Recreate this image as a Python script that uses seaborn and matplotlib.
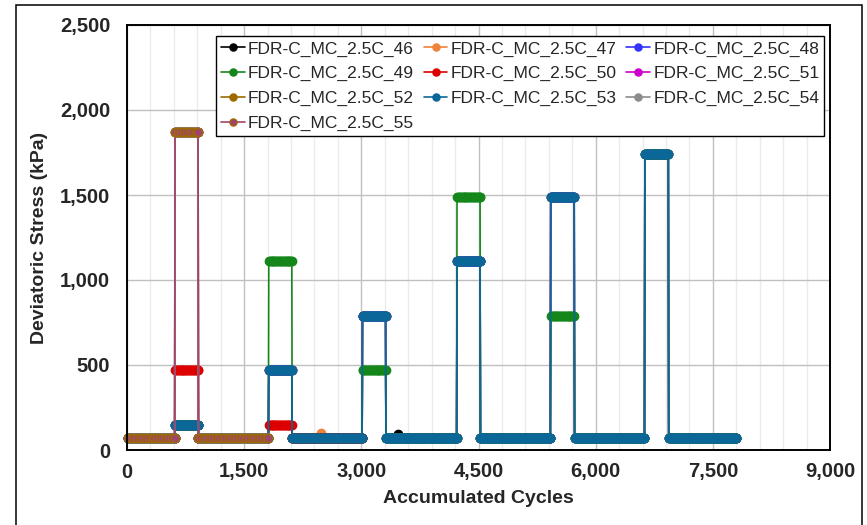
import numpy as np
import pandas as pd
import matplotlib
matplotlib.use("Agg")
import matplotlib.pyplot as plt
from matplotlib.patches import Rectangle
from matplotlib.ticker import MultipleLocator, FuncFormatter
import seaborn as sns

# ---------------- data ----------------
# loading segments in accumulated cycles: low / high stress blocks
seg_start = [10, 615, 915, 1815, 2115, 3015, 3315, 4225, 4525, 5425, 5730, 6630, 6935]
seg_end = [610, 910, 1810, 2110, 3010, 3310, 4220, 4520, 5420, 5725, 6625, 6930, 7800]

series_names = [
    "FDR-C_MC_2.5C_46", "FDR-C_MC_2.5C_47", "FDR-C_MC_2.5C_48",
    "FDR-C_MC_2.5C_49", "FDR-C_MC_2.5C_50", "FDR-C_MC_2.5C_51",
    "FDR-C_MC_2.5C_52", "FDR-C_MC_2.5C_53", "FDR-C_MC_2.5C_54",
    "FDR-C_MC_2.5C_55",
]
# cycles between recorded points, per test
record_every = [12, 12, 12, 12, 12, 12, 12, 12, 12, 38]

# deviatoric stress level (kPa) in each segment, per test
levels_46 = [70, 150, 70, 470, 70, 790, 70, 1110, 70, 1490, 70, 1740, 70]
levels_47 = [70, 150, 70, 470, 70, 790, 70, 1110, 70, 1490, 70, 1740, 70]
levels_48 = [70, 150, 70, 470, 70, 790, 70, 1110, 70, 1490, 70, 1740, 70]
levels_49 = [70, 150, 70, 1110, 70, 470, 70, 1490, 70, 790, 70, 1740, 70]
levels_50 = [70, 470, 70, 150, 70]
levels_51 = [70, 1870, 70]
levels_52 = [70, 1870, 70]
levels_53 = [70, 150, 70, 470, 70, 790, 70, 1110, 70, 1490, 70, 1740, 70]
levels_54 = [70, 1870, 70]
levels_55 = [70, 1870, 70]

# isolated readings that stand out of the low-stress bands (cycles, kPa)
odd_46 = [(3470, 95)]
odd_47 = [(2490, 100)]

all_levels = [levels_46, levels_47, levels_48, levels_49, levels_50,
              levels_51, levels_52, levels_53, levels_54, levels_55]
all_odd = [odd_46, odd_47, [], [], [], [], [], [], [], []]

line_colors = ["#000000", "#f0833a", "#3333ff", "#15871a", "#dd0000",
               "#cc00cc", "#9c6a00", "#0b6797", "#8c8c8c", "#a2436f"]
edge_colors = ["#000000", "#f0833a", "#3333ff", "#15871a", "#dd0000",
               "#cc00cc", "#9c6a00", "#0b6797", "#8c8c8c", "#9c6a00"]


def build_series(levels, odd, step):
    xs, ys = [], []
    for s, e, lv in zip(seg_start, seg_end, levels):
        x = np.arange(s, e + 1, step)
        if x[-1] != e:
            x = np.append(x, e)
        xs.append(x)
        ys.append(np.full(len(x), lv, dtype=float))
    x = np.concatenate(xs).astype(float)
    y = np.concatenate(ys)
    for ox, oy in odd:
        i = int(np.argmin(np.abs(x - ox)))
        y[i] = oy
    return pd.DataFrame({"cycles": x, "stress": y})


# ---------------- figure ----------------
sns.set_style("white")
plt.rcParams["font.family"] = ["Liberation Sans", "DejaVu Sans"]

W, H = 867, 525
fig = plt.figure(figsize=(W / 100, H / 100), dpi=100)
ax = fig.add_axes([127 / W, (H - 450) / H, 703 / W, 425 / H])

for name, lv, od, st, lc, ec in zip(series_names, all_levels, all_odd,
                                    record_every, line_colors, edge_colors):
    df = build_series(lv, od, st)
    sns.lineplot(data=df, x="cycles", y="stress", ax=ax, color=lc,
                 marker="o", markersize=6, markeredgecolor=ec,
                 markeredgewidth=1.0, linewidth=1.2, label=name,
                 estimator=None, sort=False, clip_on=False)

ax.set_xlim(0, 9000)
ax.set_ylim(0, 2500)
ax.xaxis.set_major_locator(MultipleLocator(1500))
ax.xaxis.set_minor_locator(MultipleLocator(300))
ax.yaxis.set_major_locator(MultipleLocator(500))
fmt = FuncFormatter(lambda v, p: f"{int(round(v)):,}")
ax.xaxis.set_major_formatter(fmt)
ax.yaxis.set_major_formatter(fmt)

ax.grid(which="major", color="#c0c0c0", linewidth=1.0)
ax.grid(which="minor", axis="x", color="#ebebeb", linewidth=1.0)
ax.set_axisbelow(True)

ax.tick_params(which="both", length=0)
ax.tick_params(axis="x", pad=9, labelsize=14.5)
ax.tick_params(axis="y", pad=12, labelsize=14.5)
for lab in ax.get_xticklabels() + ax.get_yticklabels():
    lab.set_fontweight("bold")

for sp in ax.spines.values():
    sp.set_visible(True)
    sp.set_color("#000000")
    sp.set_linewidth(1.4)

ax.set_xlabel("Accumulated Cycles", fontsize=14, fontweight="bold")
ax.set_ylabel("Deviatoric Stress (kPa)", fontsize=14, fontweight="bold")
ax.xaxis.set_label_coords(0.5, (450 - 490) / 425)
ax.yaxis.set_label_coords((48 - 127) / 703, 0.5)

handles, labels = ax.get_legend_handles_labels()
order = [0, 3, 6, 9, 1, 4, 7, 2, 5, 8]
leg = ax.legend([handles[i] for i in order], [labels[i] for i in order],
                ncol=3, loc="upper left",
                bbox_to_anchor=(216 / W, 1 - 36 / H), bbox_transform=fig.transFigure,
                borderaxespad=0, fontsize=12.5, frameon=True, fancybox=False,
                edgecolor="#000000", framealpha=1.0, handlelength=1.35,
                handletextpad=0.2, columnspacing=0.55, labelspacing=0.55,
                borderpad=0.3, markerscale=0.85)
leg.get_frame().set_linewidth(1.0)

# outer chart border
fig.patches.append(Rectangle((16 / W, -0.02), (862 - 16) / W, 1 - 5 / H + 0.02,
                             transform=fig.transFigure, fill=False,
                             edgecolor="#000000", linewidth=1.1))

fig.savefig("out.png", dpi=100)
